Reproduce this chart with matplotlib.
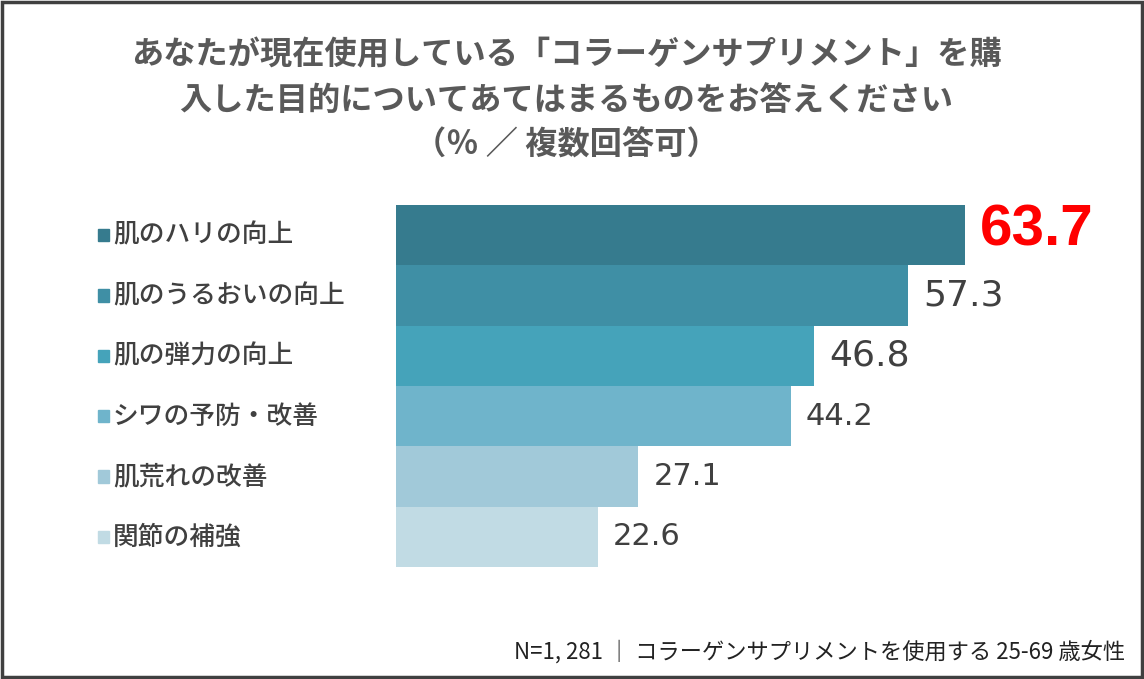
import matplotlib.pyplot as plt
from matplotlib.patches import Rectangle
import matplotlib.transforms as mtransforms

plt.rcParams['font.family'] = ['Noto Sans CJK JP', 'DejaVu Sans']

title_lines = ["あなたが現在使用している「コラーゲンサプリメント」を購",
               "入した目的についてあてはまるものをお答えください",
               "（％ ／ 複数回答可）"]
categories = ["肌のハリの向上", "肌のうるおいの向上", "肌の弾力の向上",
              "シワの予防・改善", "肌荒れの改善", "関節の補強"]
values = [63.7, 57.3, 46.8, 44.2, 27.1, 22.6]
colours = ["#367b8e", "#3f8fa5", "#45a3ba", "#6fb4cb", "#a1c9d9", "#c1dbe4"]
note = "N=1, 281 ｜ コラーゲンサプリメントを使用する 25-69 歳女性"

W, H = 1144, 679
fig = plt.figure(figsize=(W / 100, H / 100), dpi=100)
fig.patch.set_facecolor("white")

# axes in pixel terms: bars from x=396, y=205..567
ax = fig.add_axes([396 / W, (H - 567) / H, 714 / W, 362 / H])
ypos = list(range(len(values)))
ax.barh(ypos, values, height=1.0, color=colours, edgecolor="none")
ax.set_xlim(0, 714 / 8.93)
ax.set_ylim(len(values) - 0.5, -0.5)
ax.axis("off")

# value labels
for i, v in enumerate(values):
    if i == 0:
        ax.annotate(f"{v}", (v, i), xytext=(11, 3), textcoords="offset points",
                    va="center", ha="left", fontsize=42, fontweight="bold",
                    color="#ff0000", family="Liberation Sans")
    else:
        size = 26 if i < 3 else 22
        ax.annotate(f"{v}", (v, i), xytext=(11, 0), textcoords="offset points",
                    va="center", ha="left", fontsize=size,
                    color="#404040", family="DejaVu Sans")

# category labels with square markers
trans = mtransforms.blended_transform_factory(fig.transFigure, ax.transData)
for i, cat in enumerate(categories):
    fig.text(113 / W, i, cat, transform=trans, va="center", ha="left",
             fontsize=18.5, fontweight="medium", color="#404040")
    fig.patches.append(Rectangle((98 / W, i - 0.1), 11 / W, 0.2,
                                 transform=trans, color=colours[i], figure=fig))

# title
for k, line in enumerate(title_lines):
    fig.text(566 / W, 1 - (55 + 45 * k) / H, line, ha="center", va="center",
             fontsize=23.2, fontweight="bold", color="#595959")

fig.text(1125 / W, 1 - 652 / H, note, ha="right", va="center",
         fontsize=16, color="#222222")

# outer frame
fig.patches.append(Rectangle((0.002, 0.003), 0.996, 0.994, transform=fig.transFigure,
                             fill=False, edgecolor="#404040", linewidth=2.5, figure=fig))

fig.savefig("out.png", dpi=100)
